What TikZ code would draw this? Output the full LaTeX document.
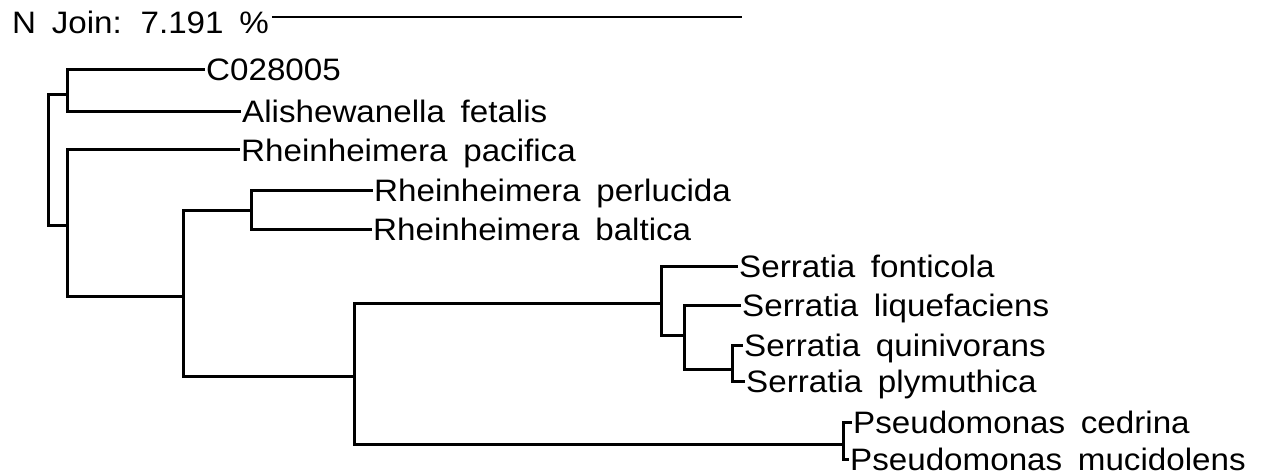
\documentclass[tikz,border=0pt]{standalone}
\usepackage{fontspec}
\setmainfont{Liberation Sans}[FakeStretch=1.07, WordSpace=1.7]
\usetikzlibrary{positioning, calc}
\definecolor{TreeBlack}{HTML}{000000}
\tikzset{
    % Branch and label styles
    branch/.style={
        draw=TreeBlack,
        line width=3pt,
        line join=miter
    },
    taxon/.style={
        anchor=west,
        inner xsep=1pt,
        inner ysep=0pt,
        text height=22pt,
        text depth=0pt,
        text=TreeBlack,
        font=\fontsize{31}{36}\selectfont
    }
}

\begin{document}
\begin{tikzpicture}[x=1pt, y=-1pt]
    \useasboundingbox (0,0) rectangle (1261,476);

    % Scale bar
    \node[taxon, inner xsep=3pt] (njoin) at (9,23) {N Join: 7.191 \%};
    \coordinate (barend) at (742,17);
    \draw[branch, line width=2.4pt] (njoin.east |- barend) -- (barend);

    % Taxa
    \node[taxon] (c028) at (205,70) {C028005};
    \node[taxon] (alish) at (241,112) {Alishewanella fetalis};
    \node[taxon] (rpac) at (240,150) {Rheinheimera pacifica};
    \node[taxon] (rper) at (373,190) {Rheinheimera perlucida};
    \node[taxon] (rbal) at (372,229) {Rheinheimera baltica};
    \node[taxon] (sfon) at (738,266) {Serratia fonticola};
    \node[taxon] (sliq) at (741,305) {Serratia liquefaciens};
    \node[taxon] (squi) at (743,345) {Serratia quinivorans};
    \node[taxon] (sply) at (745,381) {Serratia plymuthica};
    \node[taxon] (pced) at (852,422) {Pseudomonas cedrina};
    \node[taxon] (pmuc) at (849,459) {Pseudomonas mucidolens};

    % Internal nodes
    \coordinate (root) at (48,160);
    \coordinate (nA) at (67,95);
    \coordinate (nB) at (67,225);
    \coordinate (nC) at (183,296);
    \coordinate (nD) at (251,210);
    \coordinate (nE) at (354,376);
    \coordinate (nF) at (661,303);
    \coordinate (nG) at (684,335);
    \coordinate (nH) at (732,369);
    \coordinate (nP) at (843,444);

    % Branches
    \draw[branch] (root) |- (nA);
    \draw[branch] (root) |- (nB);
    \draw[branch] (nA) |- (c028.west);
    \draw[branch] (nA) |- (alish.west);
    \draw[branch] (nB) |- (rpac.west);
    \draw[branch] (nB) |- (nC);
    \draw[branch] (nC) |- (nD);
    \draw[branch] (nC) |- (nE);
    \draw[branch] (nD) |- (rper.west);
    \draw[branch] (nD) |- (rbal.west);
    \draw[branch] (nE) |- (nF);
    \draw[branch] (nE) |- (nP);
    \draw[branch] (nF) |- (sfon.west);
    \draw[branch] (nF) |- (nG);
    \draw[branch] (nG) |- (sliq.west);
    \draw[branch] (nG) |- (nH);
    \draw[branch] (nH) |- (squi.west);
    \draw[branch] (nH) |- (sply.west);
    \draw[branch] (nP) |- (pced.west);
    \draw[branch] (nP) |- (pmuc.west);
\end{tikzpicture}
\end{document}
